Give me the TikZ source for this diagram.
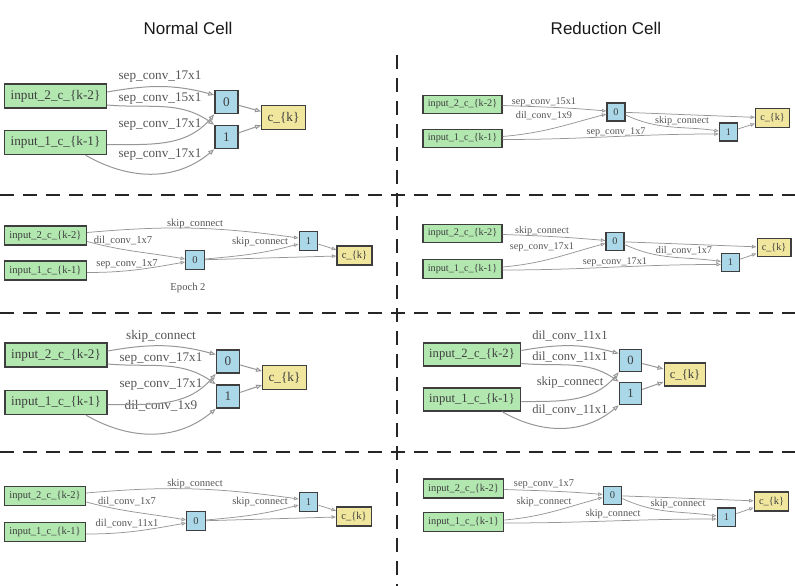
\documentclass[tikz,border=0pt]{standalone}
\usepackage{fontspec}
\setmainfont{Liberation Serif}
\newfontfamily\headfont{Liberation Sans}
\usepackage{tikz}
\usetikzlibrary{arrows.meta}

\definecolor{ingreen}{RGB}{178,232,176}
\definecolor{opblue}{RGB}{170,216,232}
\definecolor{outyellow}{RGB}{240,230,158}
\definecolor{boxline}{RGB}{62,62,62}
\definecolor{edgegray}{RGB}{150,150,150}
\definecolor{lblgray}{RGB}{85,85,85}

\begin{document}
\begin{tikzpicture}[
x=1pt, y=1pt,
inbox/.style={draw=boxline, line width=1.3pt, fill=ingreen, text=boxline,
	inner xsep=0.47em, inner ysep=0pt, minimum height=1.82em},
opbox/.style={draw=boxline, line width=1.3pt, fill=opblue, text=boxline,
	inner sep=0pt, minimum size=1.76em},
outbox/.style={draw=boxline, line width=1.3pt, fill=outyellow, text=boxline,
	inner xsep=0.45em, inner ysep=0pt, minimum height=1.82em},
lbl/.style={text=lblgray, inner sep=0pt},
edge/.style={draw=edgegray, line width=1pt, -{Triangle[open,length=6pt,width=4.5pt]}},
sedge/.style={draw=edgegray, line width=0.75pt, -{Triangle[open,length=4.5pt,width=3.5pt]}},
sep/.style={black!85, line width=1.6pt, dash pattern=on 14pt off 9pt},
head/.style={font=\headfont\fontsize{17}{20}\selectfont, text=black!90}
]
\useasboundingbox (0,0) rectangle (795,-586);

\node[head] (hn) at (188,-28) {Normal Cell};
\node[head] (hr) at (606,-28) {Reduction Cell};
\draw[sep] (397,-55) -- (397,-586);
\draw[sep] (0,-195) -- (795,-195);
\draw[sep] (0,-313) -- (795,-313);
\draw[sep] (0,-452) -- (795,-452);

\begin{scope}[node font=\fontsize{13.2}{15}\selectfont]
\node[inbox] (a-in2) at (55.5,-96) {input\_2\_c\_\{k-2\}};
\node[inbox] (a-in1) at (55.5,-142.5) {input\_1\_c\_\{k-1\}};
\node[opbox] (a-0) at (226.5,-102) {0};
\node[opbox] (a-1) at (226.5,-137) {1};
\node[outbox] (a-k) at (283.5,-117.5) {c\_\{k\}};
\node[lbl] (a-l1) at (160,-77) {sep\_conv\_17x1};
\node[lbl] (a-l2) at (160,-99) {sep\_conv\_15x1};
\node[lbl] (a-l3) at (160,-125) {sep\_conv\_17x1};
\node[lbl] (a-l4) at (160,-155) {sep\_conv\_17x1};
\draw[edge] ([yshift=4pt]a-in2.east) to[out=10,in=165] ([yshift=7pt]a-0.west);
\draw[edge] ([yshift=-9pt]a-in2.east) to[out=-5,in=145] (a-1.north west);
\draw[edge] ([yshift=-2pt]a-in1.east) to[out=0,in=-130] (a-0.south west);
\draw[edge] ([xshift=30pt]a-in1.south) to[out=-30,in=-140] (a-1.south west);
\end{scope}

\begin{scope}[node font=\fontsize{10.2}{12}\selectfont]
\node[inbox] (b-in2) at (462.5,-104.5) {input\_2\_c\_\{k-2\}};
\node[inbox] (b-in1) at (462.5,-138.5) {input\_1\_c\_\{k-1\}};
\node[opbox] (b-0) at (616,-112) {0};
\node[opbox] (b-1) at (728.5,-132) {1};
\node[outbox] (b-k) at (772.5,-118) {c\_\{k\}};
\node[lbl] (b-l1) at (544,-102) {sep\_conv\_15x1};
\node[lbl] (b-l2) at (544,-116) {dil\_conv\_1x9};
\node[lbl] (b-l3) at (682,-121) {skip\_connect};
\node[lbl] (b-l4) at (616,-132) {sep\_conv\_1x7};
\draw[sedge] ([yshift=-1pt]b-in2.east) to[out=-2,in=175] ([yshift=1pt]b-0.west);
\draw[sedge] ([yshift=2pt]b-in1.east) to[out=5,in=-165] ([yshift=-2pt]b-0.west);
\draw[sedge] ([yshift=-1pt]b-in1.east) to[out=0,in=180] ([yshift=-2pt]b-1.west);
\draw[sedge] ([yshift=-3pt]b-0.east) to[out=-25,in=172] ([yshift=1pt]b-1.west);
\end{scope}

\begin{scope}[node font=\fontsize{10.6}{12}\selectfont]
\node[inbox] (c-in2) at (45.5,-235.5) {input\_2\_c\_\{k-2\}};
\node[inbox] (c-in1) at (45.5,-270.5) {input\_1\_c\_\{k-1\}};
\node[opbox] (c-0) at (195,-260) {0};
\node[opbox] (c-1) at (308.5,-241) {1};
\node[outbox] (c-k) at (354.5,-255.5) {c\_\{k\}};
\node[lbl] (c-l1) at (195,-224) {skip\_connect};
\node[lbl] (c-l2) at (123,-241) {dil\_conv\_1x7};
\node[lbl] (c-l3) at (127,-264) {sep\_conv\_1x7};
\node[lbl] (c-l4) at (260,-242) {skip\_connect};
\node[lbl] (c-ep) at (188,-288) {Epoch 2};
\draw[sedge] ([yshift=3pt]c-in2.east) to[out=5,in=172] ([yshift=3pt]c-1.west);
\draw[sedge] ([yshift=-6pt]c-in2.east) to[out=-15,in=170] ([yshift=1pt]c-0.west);
\draw[sedge] ([yshift=-2pt]c-in1.east) to[out=0,in=-170] ([yshift=-2pt]c-0.west);
\draw[sedge] ([yshift=1pt]c-0.east) to[out=5,in=-165] ([yshift=-3pt]c-1.west);
\end{scope}

\begin{scope}[node font=\fontsize{10.2}{12}\selectfont]
\node[inbox] (d-in2) at (462.5,-233.5) {input\_2\_c\_\{k-2\}};
\node[inbox] (d-in1) at (462.5,-269) {input\_1\_c\_\{k-1\}};
\node[opbox] (d-0) at (615,-241.5) {0};
\node[opbox] (d-1) at (730.5,-262.5) {1};
\node[outbox] (d-k) at (774,-247.5) {c\_\{k\}};
\node[lbl] (d-l1) at (542,-231) {skip\_connect};
\node[lbl] (d-l2) at (542,-247) {sep\_conv\_17x1};
\node[lbl] (d-l3) at (684,-251) {dil\_conv\_1x7};
\node[lbl] (d-l4) at (615,-262) {sep\_conv\_17x1};
\draw[sedge] ([yshift=-1pt]d-in2.east) to[out=-2,in=175] ([yshift=1pt]d-0.west);
\draw[sedge] ([yshift=2pt]d-in1.east) to[out=5,in=-165] ([yshift=-2pt]d-0.west);
\draw[sedge] ([yshift=-1pt]d-in1.east) to[out=0,in=180] ([yshift=-2pt]d-1.west);
\draw[sedge] ([yshift=-3pt]d-0.east) to[out=-25,in=172] ([yshift=1pt]d-1.west);
\end{scope}

\begin{scope}[node font=\fontsize{13.2}{15}\selectfont]
\node[inbox] (e-in2) at (56,-355) {input\_2\_c\_\{k-2\}};
\node[inbox] (e-in1) at (56,-402.5) {input\_1\_c\_\{k-1\}};
\node[opbox] (e-0) at (228,-361.5) {0};
\node[opbox] (e-1) at (228,-396.5) {1};
\node[outbox] (e-k) at (284.5,-377.5) {c\_\{k\}};
\node[lbl] (e-l1) at (161,-336) {skip\_connect};
\node[lbl] (e-l2) at (161,-359) {sep\_conv\_17x1};
\node[lbl] (e-l3) at (161,-385) {sep\_conv\_17x1};
\node[lbl] (e-l4) at (161,-406) {dil\_conv\_1x9};
\draw[edge] ([yshift=4pt]e-in2.east) to[out=10,in=165] ([yshift=7pt]e-0.west);
\draw[edge] ([yshift=-9pt]e-in2.east) to[out=-5,in=145] (e-1.north west);
\draw[edge] ([yshift=-2pt]e-in1.east) to[out=0,in=-130] (e-0.south west);
\draw[edge] ([xshift=30pt]e-in1.south) to[out=-30,in=-140] (e-1.south west);
\end{scope}

\begin{scope}[node font=\fontsize{12.6}{15}\selectfont]
\node[inbox] (f-in2) at (472,-354.5) {input\_2\_c\_\{k-2\}};
\node[inbox] (f-in1) at (472,-399.5) {input\_1\_c\_\{k-1\}};
\node[opbox] (f-0) at (630.5,-360.5) {0};
\node[opbox] (f-1) at (630.5,-393.5) {1};
\node[outbox] (f-k) at (685,-374.5) {c\_\{k\}};
\node[lbl] (f-l1) at (570,-336) {dil\_conv\_11x1};
\node[lbl] (f-l2) at (570,-357) {dil\_conv\_11x1};
\node[lbl] (f-l3) at (570,-382) {skip\_connect};
\node[lbl] (f-l4) at (570,-410) {dil\_conv\_11x1};
\draw[edge] ([yshift=4pt]f-in2.east) to[out=10,in=165] ([yshift=7pt]f-0.west);
\draw[edge] ([yshift=-9pt]f-in2.east) to[out=-5,in=145] (f-1.north west);
\draw[edge] ([yshift=-2pt]f-in1.east) to[out=0,in=-130] (f-0.south west);
\draw[edge] ([xshift=30pt]f-in1.south) to[out=-30,in=-140] (f-1.south west);
\end{scope}

\begin{scope}[node font=\fontsize{10.5}{12}\selectfont]
\node[inbox] (g-in2) at (45,-496) {input\_2\_c\_\{k-2\}};
\node[inbox] (g-in1) at (45,-532) {input\_1\_c\_\{k-1\}};
\node[opbox] (g-0) at (196,-521) {0};
\node[opbox] (g-1) at (308.5,-502) {1};
\node[outbox] (g-k) at (354,-516.5) {c\_\{k\}};
\node[lbl] (g-l1) at (195,-484) {skip\_connect};
\node[lbl] (g-l2) at (127,-502) {dil\_conv\_1x7};
\node[lbl] (g-l3) at (127,-524) {dil\_conv\_11x1};
\node[lbl] (g-l4) at (260,-502) {skip\_connect};
\draw[sedge] ([yshift=3pt]g-in2.east) to[out=5,in=172] ([yshift=3pt]g-1.west);
\draw[sedge] ([yshift=-6pt]g-in2.east) to[out=-15,in=170] ([yshift=1pt]g-0.west);
\draw[sedge] ([yshift=-2pt]g-in1.east) to[out=0,in=-170] ([yshift=-2pt]g-0.west);
\draw[sedge] ([yshift=1pt]g-0.east) to[out=5,in=-165] ([yshift=-3pt]g-1.west);
\end{scope}

\begin{scope}[node font=\fontsize{10.4}{12}\selectfont]
\node[inbox] (h-in2) at (463.5,-488.5) {input\_2\_c\_\{k-2\}};
\node[inbox] (h-in1) at (463.5,-522) {input\_1\_c\_\{k-1\}};
\node[opbox] (h-0) at (612.5,-495.5) {0};
\node[opbox] (h-1) at (726.5,-517) {1};
\node[outbox] (h-k) at (771.5,-501.5) {c\_\{k\}};
\node[lbl] (h-l1) at (544,-484) {sep\_conv\_1x7};
\node[lbl] (h-l2) at (544,-502) {skip\_connect};
\node[lbl] (h-l3) at (678,-504) {skip\_connect};
\node[lbl] (h-l4) at (613,-514) {skip\_connect};
\draw[sedge] ([yshift=-1pt]h-in2.east) to[out=-2,in=175] ([yshift=1pt]h-0.west);
\draw[sedge] ([yshift=2pt]h-in1.east) to[out=5,in=-165] ([yshift=-2pt]h-0.west);
\draw[sedge] ([yshift=-1pt]h-in1.east) to[out=0,in=180] ([yshift=-2pt]h-1.west);
\draw[sedge] ([yshift=-3pt]h-0.east) to[out=-25,in=172] ([yshift=1pt]h-1.west);
\end{scope}

\foreach \p in {a,e,f}
{
	\draw[edge] (\p-0) -- (\p-k);
	\draw[edge] (\p-1) -- (\p-k);
}
\foreach \p in {b,c,d,g,h}
{
	\draw[sedge] (\p-0) -- (\p-k);
	\draw[sedge] (\p-1) -- (\p-k);
}
\end{tikzpicture}
\end{document}
